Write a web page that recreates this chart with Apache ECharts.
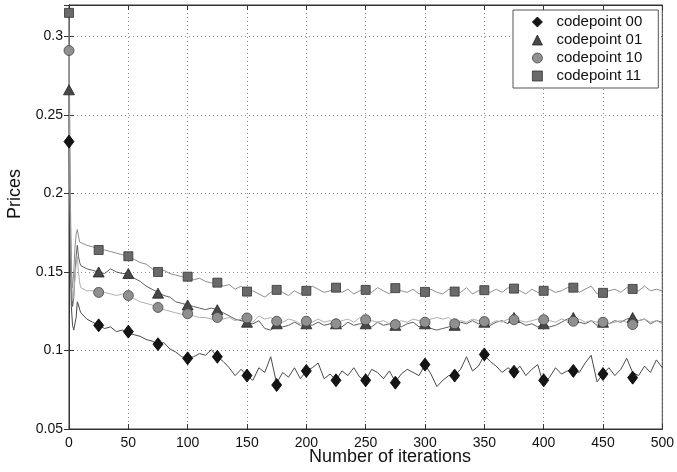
<!DOCTYPE html>
<html>
<head>
<meta charset="utf-8">
<script src="https://cdn.jsdelivr.net/npm/echarts@6/dist/echarts.min.js"></script>
<style>
html,body{margin:0;padding:0;background:#fff;}
#chart{width:677px;height:472px;}
</style>
</head>
<body>
<div id="chart"></div>
<script>
// iterations at which line values were read
const iterations = [0,1,2,3,4,5,6,7,8,9,10,
  15,20,25,30,35,40,45,50,55,60,
  65,70,75,80,85,90,95,100,105,110,
  115,120,125,130,135,140,145,150,155,160,
  165,170,175,180,185,190,195,200,205,210,
  215,220,225,230,235,240,245,250,255,260,
  265,270,275,280,285,290,295,300,305,310,
  315,320,325,330,335,340,345,350,355,360,
  365,370,375,380,385,390,395,400,405,410,
  415,420,425,430,435,440,445,450,455,460,
  465,470,475,480,485,490,495,500];

const line00 = [0.233,0.165,0.128,0.116,0.113,0.114,0.121,0.131,0.129,0.126,0.124,
  0.120,0.118,0.116,0.114,0.115,0.112,0.113,0.111,0.110,0.109,
  0.107,0.106,0.104,0.105,0.101,0.099,0.096,0.095,0.096,0.098,
  0.097,0.1005,0.096,0.093,0.089,0.084,0.088,0.084,0.081,0.089,
  0.086,0.096,0.079,0.086,0.083,0.089,0.082,0.087,0.089,0.092,
  0.082,0.085,0.081,0.087,0.084,0.089,0.083,0.081,0.088,0.086,
  0.082,0.087,0.080,0.085,0.088,0.086,0.084,0.091,0.085,0.077,
  0.081,0.084,0.084,0.088,0.096,0.087,0.090,0.097,0.093,0.090,
  0.086,0.089,0.086,0.090,0.084,0.088,0.091,0.078,0.083,0.089,
  0.085,0.087,0.088,0.086,0.092,0.097,0.080,0.085,0.089,0.084,
  0.088,0.095,0.086,0.084,0.090,0.086,0.094,0.089];

const line01 = [0.266,0.185,0.142,0.128,0.134,0.148,0.160,0.167,0.160,0.156,0.154,
  0.152,0.151,0.150,0.149,0.152,0.150,0.149,0.149,0.146,0.144,
  0.141,0.139,0.137,0.135,0.134,0.131,0.130,0.129,0.128,0.127,
  0.126,0.127,0.126,0.124,0.122,0.120,0.119,0.118,0.117,0.119,
  0.114,0.113,0.116,0.115,0.116,0.118,0.116,0.117,0.116,0.118,
  0.116,0.117,0.117,0.115,0.118,0.116,0.117,0.117,0.115,0.118,
  0.116,0.117,0.116,0.115,0.117,0.118,0.115,0.117,0.114,0.113,
  0.114,0.115,0.116,0.118,0.117,0.119,0.117,0.118,0.116,0.118,
  0.119,0.117,0.121,0.118,0.116,0.117,0.115,0.117,0.115,0.116,
  0.118,0.120,0.121,0.118,0.117,0.119,0.116,0.118,0.117,0.119,
  0.118,0.120,0.121,0.119,0.120,0.117,0.119,0.118];

const line10 = [0.291,0.195,0.148,0.132,0.135,0.146,0.155,0.160,0.150,0.143,0.140,
  0.138,0.138,0.137,0.137,0.136,0.135,0.136,0.135,0.133,0.131,
  0.130,0.129,0.127,0.126,0.125,0.124,0.123,0.123,0.122,0.121,
  0.121,0.120,0.121,0.120,0.121,0.119,0.120,0.121,0.118,0.122,
  0.120,0.121,0.119,0.118,0.120,0.119,0.117,0.119,0.118,0.120,
  0.118,0.119,0.117,0.119,0.120,0.118,0.121,0.120,0.119,0.118,
  0.119,0.117,0.117,0.119,0.118,0.120,0.119,0.118,0.120,0.121,
  0.120,0.121,0.117,0.119,0.118,0.120,0.119,0.118,0.117,0.119,
  0.118,0.120,0.120,0.119,0.118,0.119,0.120,0.120,0.119,0.118,
  0.120,0.119,0.119,0.120,0.118,0.119,0.118,0.118,0.117,0.118,
  0.119,0.118,0.117,0.119,0.120,0.118,0.119,0.117];

const line11 = [0.315,0.205,0.152,0.140,0.150,0.165,0.174,0.177,0.173,0.169,0.168,
  0.167,0.166,0.164,0.164,0.163,0.162,0.161,0.160,0.158,0.156,
  0.155,0.152,0.150,0.151,0.149,0.148,0.147,0.147,0.145,0.146,
  0.144,0.143,0.143,0.141,0.142,0.139,0.141,0.137,0.138,0.136,
  0.134,0.137,0.139,0.137,0.135,0.138,0.136,0.138,0.141,0.139,
  0.137,0.138,0.140,0.137,0.139,0.136,0.138,0.139,0.137,0.140,
  0.138,0.136,0.140,0.138,0.137,0.139,0.136,0.137,0.139,0.137,
  0.136,0.139,0.138,0.137,0.140,0.136,0.138,0.138,0.137,0.139,
  0.137,0.140,0.139,0.138,0.136,0.139,0.137,0.138,0.139,0.137,
  0.138,0.140,0.140,0.137,0.139,0.141,0.136,0.137,0.138,0.139,
  0.137,0.140,0.139,0.138,0.141,0.138,0.139,0.138];

// marker positions (every 25 iterations)
const markerIter = [0,25,50,75,100,125,150,175,200,225,250,275,300,325,350,375,400,425,450,475];
const mark00 = [0.233,0.116,0.112,0.104,0.095,0.096,0.084,0.078,0.087,0.081,0.081,0.0795,0.091,0.084,0.0975,0.0865,0.081,0.087,0.085,0.0827];
const mark01 = [0.266,0.150,0.149,0.1365,0.129,0.126,0.118,0.117,0.117,0.117,0.117,0.116,0.117,0.116,0.118,0.121,0.117,0.121,0.118,0.121];
const mark10 = [0.291,0.137,0.135,0.1274,0.1234,0.121,0.1207,0.1186,0.1186,0.117,0.1196,0.1165,0.118,0.117,0.1184,0.1196,0.1196,0.1186,0.118,0.1165];
const mark11 = [0.315,0.164,0.160,0.150,0.147,0.1432,0.1375,0.1386,0.138,0.140,0.1386,0.1397,0.1373,0.1375,0.1384,0.1394,0.138,0.140,0.1367,0.1392];

const seriesNames = ['codepoint 00','codepoint 01','codepoint 10','codepoint 11'];
const xTicks = {min:0, max:500, interval:50};
const yTicks = {min:0.05, max:0.32, interval:0.05};
const xTitle = 'Number of iterations';
const yTitle = 'Prices';

const pair = (xs, ys) => xs.map((x, i) => [x, ys[i]]);

const FONT = '"Liberation Sans", Arial, Helvetica, sans-serif';
const chart = echarts.init(document.getElementById('chart'), null, {renderer:'canvas'});

const lineColors = ['#4a4a4a', '#5e5e5e', '#b0b0b0', '#8e8e8e'];
const lineData = [line00, line01, line10, line11];
const markData = [mark00, mark01, mark10, mark11];
const markStyle = [
  {symbol:'diamond', size:[10,13], color:'#151515', border:'#000'},
  {symbol:'triangle', size:[11,10], color:'#484848', border:'#222'},
  {symbol:'circle', size:10, color:'#909090', border:'#444'},
  {symbol:'rect', size:9, color:'#6a6a6a', border:'#333'}
];

const series = [];
lineData.forEach((d, i) => {
  series.push({
    name: seriesNames[i] + ' line', type:'line', data: pair(iterations, d),
    showSymbol:false, symbol:'none', silent:true, z:2,
    lineStyle:{color: lineColors[i], width:1}
  });
});
const markOrder = [3, 1, 2, 0];
markOrder.forEach(i => {
  const m = markStyle[i];
  series.push({
    name: seriesNames[i], type:'scatter', data: pair(markerIter, markData[i]),
    symbol: m.symbol, symbolSize: m.size, z:5 + (i === 0 ? 3 : i === 2 ? 2 : i === 1 ? 1 : 0),
    itemStyle:{color: m.color, borderColor: m.border, borderWidth:0.8, opacity:1}
  });
});

const gridLine = {show:true, lineStyle:{color:'#8a8a8a', type:[1,3], width:1}};
const yFmt = v => {
  const k = Math.round(v / 0.05);
  if (Math.abs(v - k * 0.05) > 1e-6) return '';
  return String(+(k * 0.05).toFixed(2));
};

chart.setOption({
  animation:false,
  backgroundColor:'#fff',
  textStyle:{fontFamily: FONT},
  grid:{left:69, right:10, top:5, bottom:43, show:true, borderColor:'#333', borderWidth:1, backgroundColor:'transparent'},
  legend:{
    data: seriesNames.map((n, i) => ({name:n, icon: markStyle[i].symbol,
      itemStyle:{color: markStyle[i].color, borderColor: markStyle[i].border, borderWidth:0.8}})),
    orient:'vertical', left:513, top:10,
    padding:[3,16,3,19], itemWidth:10, itemHeight:10, itemGap:0,
    backgroundColor:'#fff', borderColor:'#555', borderWidth:1, borderRadius:0,
    textStyle:{fontFamily:FONT, fontSize:15, color:'#111', lineHeight:18, padding:[0,0,0,9]},
    selectedMode:false, z:20
  },
  xAxis:[{
    type:'value', min:xTicks.min, max:xTicks.max, interval:xTicks.interval,
    axisLine:{show:true, lineStyle:{color:'#333'}},
    axisTick:{show:true, inside:true, length:5, lineStyle:{color:'#333'}},
    axisLabel:{fontFamily:FONT, fontSize:14, color:'#111', margin:7},
    splitLine: gridLine
  },{
    type:'value', position:'top', min:xTicks.min, max:xTicks.max, interval:xTicks.interval,
    axisLine:{show:true, lineStyle:{color:'#333'}},
    axisTick:{show:true, inside:true, length:5, lineStyle:{color:'#333'}},
    axisLabel:{show:false}, splitLine:{show:false}
  }],
  yAxis:[{
    type:'value', min:yTicks.min, max:yTicks.max, interval:yTicks.interval,
    axisLine:{show:true, lineStyle:{color:'#333'}},
    axisTick:{show:true, inside:true, length:5, lineStyle:{color:'#333'}},
    axisLabel:{fontFamily:FONT, fontSize:14, color:'#111', margin:6, formatter: yFmt, showMaxLabel:false},
    splitLine: gridLine
  },{
    type:'value', position:'right', min:yTicks.min, max:yTicks.max, interval:yTicks.interval,
    axisLine:{show:true, lineStyle:{color:'#333'}},
    axisTick:{show:true, inside:true, length:5, lineStyle:{color:'#333'}},
    axisLabel:{show:false}, splitLine:{show:false}
  }],
  graphic:[
    {type:'text', left:309, top:448, style:{text:xTitle, font:'18px ' + FONT, fill:'#111'}},
    {type:'text', x:6, y:219, rotation:Math.PI/2, style:{text:yTitle, font:'18px ' + FONT, fill:'#111', textAlign:'left', textVerticalAlign:'top'}}
  ],
  series: series
});
</script>
</body>
</html>
